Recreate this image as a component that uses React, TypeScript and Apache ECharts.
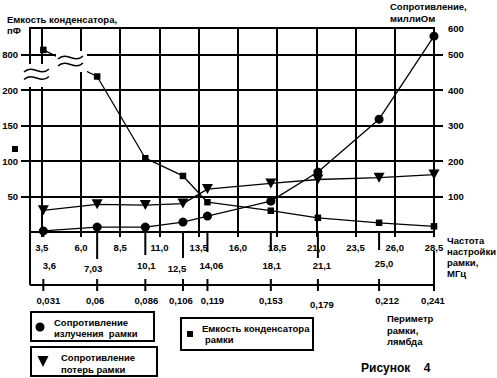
import React, { useEffect, useRef } from 'react';
import * as echarts from 'echarts';

// ---- data ----
const freqTicks = [3.5, 6.0, 8.5, 11.0, 13.5, 16.0, 18.5, 21.0, 23.5, 26.0, 28.5];
const frequencies = [3.6, 7.03, 10.1, 12.5, 14.06, 18.1, 21.1, 25.0, 28.5];
const frequencyLabels = ['3,6', '7,03', '10,1', '12,5', '14,06', '18,1', '21,1', '25,0', ''];
const perimeterLabels = ['0,031', '0,06', '0,086', '0,106', '0,119', '0,153', '0,179', '0,212', '0,241'];
const radiationResistance = [3, 14, 14, 28, 45, 87, 169, 318, 552]; // milliohm
const lossResistance = [61, 78, 76, 80, 121, 137, 148, 153, 162]; // milliohm
const capacitance = [880, 430, 104, 79, 42, 30, 20, 13, 8]; // pF
const capTickLabels = [50, 100, 150, 200, 800];
const resTickLabels = [100, 200, 300, 400, 500, 600];

// ---- scale helpers (axis break on the capacitance axis: 200..800 compressed) ----
const CAP_BREAK = 200;
const capToAxis = (v: number) => (v <= CAP_BREAK ? v : CAP_BREAK + ((v - CAP_BREAK) * 50) / 600);
const CAP_AXIS_MAX = 287.5;
const RES_AXIS_MAX = 575;
const resToAxis = (v: number) => Math.min(v, RES_AXIS_MAX);

// ---- styles ----
const FONT = 'bold 9.5px "Liberation Sans", Arial, sans-serif';
const dropLen = [5, 27, 23, 26, 20, 18, 26, 18, 5];
const midLabelOffset = [33, 36, 33, 36, 33, 33, 33, 31, 0];
const midLabelDx = [6, -4, 1, -6, 4, 1, 4, 5, 0];
const perimLabelOffset = [68, 68, 68, 68, 68, 68, 72, 68, 68];
const perimLabelDx = [5, -2, 1, -2, 5, 0, 4, 8, -1];
const perimAxisOffset = 53;

const fmtFreq = (v: number) => v.toFixed(1).replace('.', ',');

function txt(text: string, x: number, y: number, font = FONT, align = 'left') {
  return {
    type: 'text',
    x,
    y,
    z: 102,
    silent: true,
    style: { text, font, fill: '#000', verticalAlign: 'middle', align },
  };
}

function wave(x0: number, y: number, w: number) {
  return {
    type: 'bezierCurve',
    z: 102,
    silent: true,
    shape: {
      x1: x0, y1: y + 1.5,
      cpx1: x0 + w * 0.35, cpy1: y - 7,
      cpx2: x0 + w * 0.65, cpy2: y + 7,
      x2: x0 + w, y2: y - 1.5,
    },
    style: { stroke: '#000', lineWidth: 1.5, fill: null },
  };
}

function mask(x: number, y: number, width: number, height: number) {
  return { type: 'rect', z: 101, silent: true, shape: { x, y, width, height }, style: { fill: '#fff' } };
}

function box(x: number, y: number, width: number, height: number) {
  return {
    type: 'rect', z: 100, silent: true,
    shape: { x, y, width, height },
    style: { fill: '#fff', stroke: '#000', lineWidth: 2 },
  };
}

export default function App() {
  const ref = useRef<HTMLDivElement>(null);

  useEffect(() => {
    if (!ref.current) return;
    const chart = echarts.init(ref.current, null, { renderer: 'svg' });

    const axisLabelStyle = {
      fontFamily: '"Liberation Sans", Arial, sans-serif',
      fontWeight: 'bold',
      fontSize: 9.5,
      color: '#000',
    };
    const blackLine = { color: '#000', width: 2 };

    const option: any = {
      animation: false,
      backgroundColor: '#fff',
      grid: {
        left: 30,
        right: 63,
        top: 28,
        bottom: 146,
        show: true,
        borderColor: '#000',
        borderWidth: 2,
        backgroundColor: 'transparent',
        containLabel: false,
        outerBoundsMode: 'none',
      },
      xAxis: [
        {
          type: 'value',
          min: 2.75,
          max: 28.5,
          axisLine: { show: true, lineStyle: blackLine },
          axisTick: { show: true, customValues: freqTicks, length: 5, lineStyle: blackLine },
          axisLabel: {
            ...axisLabelStyle,
            customValues: freqTicks,
            margin: 10,
            formatter: (v: number) => fmtFreq(v),
          },
          splitLine: { show: false },
        },
      ],
      yAxis: [
        {
          type: 'value',
          position: 'left',
          min: 0,
          max: CAP_AXIS_MAX,
          interval: 50,
          axisLine: { show: true, lineStyle: blackLine },
          axisTick: { show: true, customValues: capTickLabels.map(capToAxis), length: 9, lineStyle: blackLine },
          axisLabel: {
            ...axisLabelStyle,
            customValues: capTickLabels.map(capToAxis),
            margin: 12,
            formatter: (v: number) => {
              const i = capTickLabels.map(capToAxis).indexOf(v);
              return i >= 0 ? String(capTickLabels[i]) : '';
            },
          },
          splitLine: { show: false },
        },
        {
          type: 'value',
          position: 'right',
          min: 0,
          max: RES_AXIS_MAX,
          interval: 100,
          axisLine: { show: true, lineStyle: blackLine },
          axisTick: { show: true, customValues: resTickLabels.slice(0, 5), length: 9, lineStyle: blackLine },
          axisLabel: {
            ...axisLabelStyle,
            customValues: resTickLabels.map(resToAxis),
            margin: 14,
            formatter: (v: number) => {
              const i = resTickLabels.map(resToAxis).indexOf(v);
              return i >= 0 ? String(resTickLabels[i]) : '';
            },
          },
          splitLine: { show: true, lineStyle: blackLine },
        },
      ],
      series: [
        {
          name: 'Сопротивление излучения рамки',
          type: 'line',
          yAxisIndex: 1,
          data: frequencies.map((f, i) => [f, radiationResistance[i]]),
          symbol: 'circle',
          symbolSize: 9,
          itemStyle: { color: '#000' },
          lineStyle: { color: '#000', width: 1.3 },
          z: 5,
          markLine: {
            silent: true,
            symbol: ['none', 'none'],
            label: { show: false },
            lineStyle: { color: '#000', width: 2, type: 'solid' },
            emphasis: { disabled: true },
            data: freqTicks.map((v) => ({ xAxis: v })),
          },
        },
        {
          name: 'Сопротивление потерь рамки',
          type: 'line',
          yAxisIndex: 1,
          data: frequencies.map((f, i) => [f, lossResistance[i]]),
          symbol: 'triangle',
          symbolRotate: 180,
          symbolSize: [11, 10],
          itemStyle: { color: '#000' },
          lineStyle: { color: '#000', width: 1.3 },
          z: 5,
        },
        {
          name: 'Емкость конденсатора рамки',
          type: 'line',
          yAxisIndex: 0,
          data: frequencies.map((f, i) => [f, capToAxis(capacitance[i])]),
          symbol: 'rect',
          symbolSize: 6.5,
          itemStyle: { color: '#000' },
          lineStyle: { color: '#000', width: 1.3 },
          z: 5,
        },
        {
          name: 'scales',
          type: 'custom',
          yAxisIndex: 1,
          clip: false,
          silent: true,
          z: 6,
          data: frequencies.map((f) => [f, 0]),
          renderItem: (params: any, api: any) => {
            const i = params.dataIndex;
            const p = api.coord([api.value(0), 0]);
            const x = p[0];
            const y0 = p[1];
            const cs = params.coordSys;
            const lineY = y0 + perimAxisOffset;
            const ls = { stroke: '#000', lineWidth: 2 };
            const children: any[] = [];
            children.push({ type: 'line', shape: { x1: x, y1: y0, x2: x, y2: y0 + dropLen[i] }, style: ls });
            if (frequencyLabels[i]) {
              children.push({
                type: 'text',
                style: { text: frequencyLabels[i], x: x + midLabelDx[i], y: y0 + midLabelOffset[i], align: 'center', verticalAlign: 'middle', font: FONT, fill: '#000' },
              });
            }
            if (i === frequencies.length - 1) {
              children.push({ type: 'line', shape: { x1: x, y1: y0 + 19, x2: x, y2: lineY + 6 }, style: ls });
            } else {
              children.push({ type: 'line', shape: { x1: x, y1: lineY - 6, x2: x, y2: lineY + 6 }, style: ls });
            }
            children.push({
              type: 'text',
              style: { text: perimeterLabels[i], x: x + perimLabelDx[i], y: y0 + perimLabelOffset[i], align: 'center', verticalAlign: 'middle', font: FONT, fill: '#000' },
            });
            if (i === 0) {
              children.push({ type: 'line', shape: { x1: cs.x, y1: lineY, x2: cs.x + cs.width, y2: lineY }, style: ls });
              children.push({ type: 'line', shape: { x1: cs.x, y1: y0, x2: cs.x, y2: lineY }, style: ls });
            }
            return { type: 'group', children };
          },
        },
      ],
      graphic: {
        elements: [
          // axis titles
          txt('Емкость конденсатора,', 7, 19),
          txt('пФ', 7, 30),
          txt('Сопротивление,', 390, 6),
          txt('миллиОм', 390, 18),
          txt('Частота', 447, 240),
          txt('настройки', 447, 251),
          txt('рамки,', 447, 262),
          txt('МГц', 447, 273),
          txt('Периметр', 387, 318),
          txt('рамки,', 387, 330),
          txt('лямбда', 387, 341),
          txt('Рисунок', 361, 368, 'bold 12px "Liberation Sans", Arial, sans-serif'),
          txt('4', 427, 368, 'bold 12px "Liberation Sans", Arial, sans-serif', 'center'),
          // capacitance axis marker
          { type: 'rect', z: 102, silent: true, shape: { x: 12, y: 146, width: 6, height: 6 }, style: { fill: '#000' } },
          // axis breaks
          mask(22, 64, 28, 23),
          wave(24, 70.5, 25),
          wave(24, 78, 25),
          mask(56, 51, 31, 21),
          wave(58, 57.5, 25),
          wave(58, 64.5, 25),
          // legend boxes
          box(31, 312, 123, 29),
          { type: 'circle', z: 102, silent: true, shape: { cx: 40, cy: 327, r: 4.5 }, style: { fill: '#000' } },
          txt('Сопротивление', 54, 322),
          txt('излучения  рамки', 54, 333),
          box(31, 347, 126, 29),
          { type: 'polygon', z: 102, silent: true, shape: { points: [[37.5, 356], [48.5, 356], [43, 367]] }, style: { fill: '#000' } },
          txt('Сопротивление', 61, 357),
          txt('потерь рамки', 61, 369),
          box(181, 318, 132, 32),
          { type: 'rect', z: 102, silent: true, shape: { x: 187, y: 331, width: 6, height: 6 }, style: { fill: '#000' } },
          txt('Емкость конденсатора', 202, 328),
          txt('рамки', 205, 339),
        ],
      },
    };

    chart.setOption(option);
    return () => chart.dispose();
  }, []);

  return (
    <div
      ref={ref}
      style={{ position: 'fixed', left: 0, top: 0, width: 497, height: 378, background: '#fff' }}
    />
  );
}
